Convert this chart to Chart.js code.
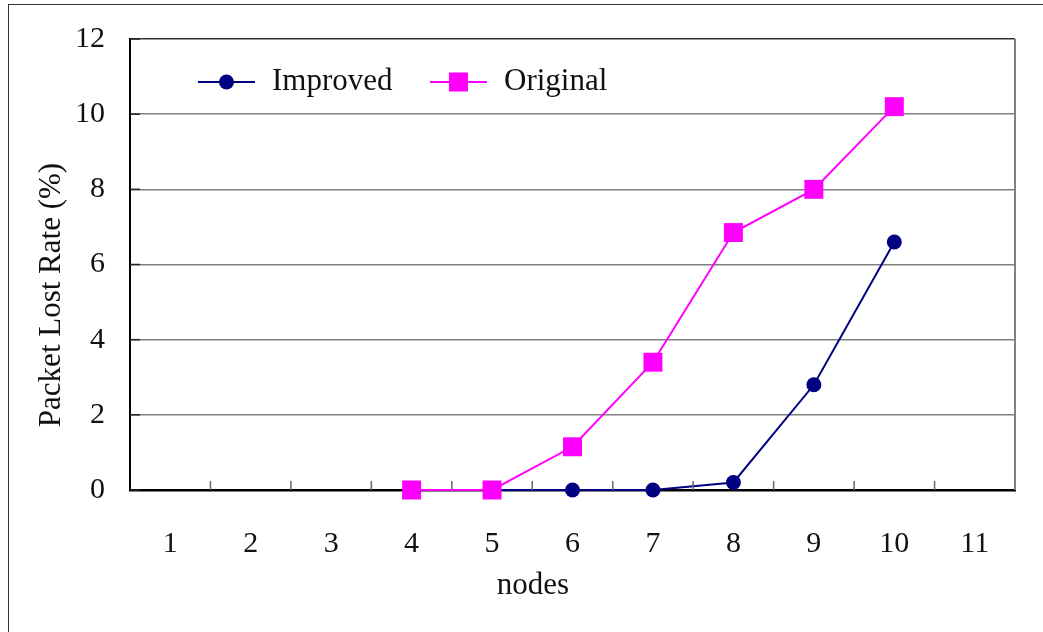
<!DOCTYPE html>
<html>
<head>
<meta charset="utf-8">
<script src="https://cdn.jsdelivr.net/npm/chart.js@4/dist/chart.umd.min.js"></script>
<style>
  html, body { margin: 0; padding: 0; background: #fff; overflow: hidden; }
  #frame { position: absolute; left: 8px; top: 4px; width: 1200px; height: 800px; border: 1.5px solid #333; }
  #wrap { position: absolute; left: 0; top: 0; width: 1043px; height: 632px; }
</style>
</head>
<body>
<div id="frame"></div>
<div id="wrap"><canvas id="lossChart"></canvas></div>
<script>
// data
const nodes = ['1', '2', '3', '4', '5', '6', '7', '8', '9', '10', '11'];
const improved = [null, null, null, 0, 0, 0, 0, 0.2, 2.8, 6.6, null];
const original = [null, null, null, 0, 0, 1.15, 3.4, 6.85, 8.0, 10.2, null];
const yTicks = [0, 2, 4, 6, 8, 10, 12];
const xTitle = 'nodes';
const yTitle = 'Packet Lost Rate (%)';

const serif = '"Liberation Serif", "Times New Roman", serif';

// legend inside the plot, axis titles, inner tick marks, right border
const framePlugin = {
    id: 'framePlugin',
    afterDatasetsDraw(chart) {
        const ctx = chart.ctx;
        const area = chart.chartArea;
        const x = chart.scales.x;
        const y = chart.scales.y;
        ctx.save();
        // right border
        ctx.strokeStyle = '#808080';
        ctx.lineWidth = 2;
        ctx.beginPath();
        ctx.moveTo(area.right, area.top);
        ctx.lineTo(area.right, area.bottom);
        ctx.stroke();
        // x ticks between categories, pointing up
        ctx.strokeStyle = '#666';
        ctx.lineWidth = 1.5;
        for (let i = 0; i < nodes.length - 1; i++) {
            const px = (x.getPixelForValue(i) + x.getPixelForValue(i + 1)) / 2;
            ctx.beginPath();
            ctx.moveTo(px, area.bottom);
            ctx.lineTo(px, area.bottom - 9);
            ctx.stroke();
        }
        // y ticks, pointing in
        ctx.strokeStyle = '#222';
        yTicks.forEach(v => {
            const py = y.getPixelForValue(v);
            ctx.beginPath();
            ctx.moveTo(area.left, py);
            ctx.lineTo(area.left + 10, py);
            ctx.stroke();
        });
        ctx.restore();
    },
    afterDraw(chart) {
        const ctx = chart.ctx;
        const area = chart.chartArea;
        ctx.save();
        ctx.fillStyle = '#111';
        ctx.font = '31px ' + serif;
        ctx.textAlign = 'center';
        ctx.textBaseline = 'middle';
        // axis titles
        ctx.fillText(xTitle, area.left + 403, area.bottom + 96);
        ctx.save();
        ctx.translate(52, area.top + 256);
        ctx.rotate(-Math.PI / 2);
        ctx.fillText(yTitle, 0, 0);
        ctx.restore();

        // legend
        const items = [
            { ds: chart.data.datasets[0], off: 68 },
            { ds: chart.data.datasets[1], off: 300 }
        ];
        const ly = area.top + 43;
        ctx.textAlign = 'left';
        items.forEach(it => {
            const x0 = area.left + it.off;
            ctx.strokeStyle = it.ds.borderColor;
            ctx.lineWidth = 2;
            ctx.beginPath();
            ctx.moveTo(x0, ly);
            ctx.lineTo(x0 + 57, ly);
            ctx.stroke();
            ctx.fillStyle = it.ds.pointBackgroundColor;
            if (it.ds.pointStyle === 'rect') {
                ctx.fillRect(x0 + 28.5 - 9.5, ly - 9.5, 19, 19);
            } else {
                ctx.beginPath();
                ctx.arc(x0 + 28.5, ly, 7.5, 0, Math.PI * 2);
                ctx.fill();
            }
            ctx.fillStyle = '#111';
            ctx.fillText(it.ds.label, x0 + 74, ly);
        });
        ctx.restore();
    }
};

new Chart(document.getElementById('lossChart').getContext('2d'), {
    type: 'line',
    data: {
        labels: nodes,
        datasets: [{
            label: 'Improved',
            data: improved,
            borderColor: '#000080',
            backgroundColor: '#000080',
            pointBackgroundColor: '#000080',
            pointBorderColor: '#000080',
            pointStyle: 'circle',
            pointRadius: 7.5,
            pointBorderWidth: 0,
            borderWidth: 2,
            tension: 0,
            clip: false,
            order: 1
        }, {
            label: 'Original',
            data: original,
            borderColor: '#ff00ff',
            backgroundColor: '#ff00ff',
            pointBackgroundColor: '#ff00ff',
            pointBorderColor: '#ff00ff',
            pointStyle: 'rect',
            pointRadius: 13.4,
            pointBorderWidth: 0,
            borderWidth: 2,
            tension: 0,
            clip: false,
            order: 0
        }]
    },
    options: {
        responsive: true,
        maintainAspectRatio: false,
        animation: false,
        layout: { padding: { left: 0, top: 39, right: 28, bottom: 0 } },
        plugins: {
            legend: { display: false },
            tooltip: { enabled: false }
        },
        scales: {
            x: {
                offset: true,
                grid: { display: false, offset: true },
                border: { display: true, color: '#000', width: 2.5 },
                ticks: { color: '#111', font: { family: serif, size: 30 }, padding: 28, maxRotation: 0 },
                afterFit(scale) {
                    scale.height = 142;
                    scale.paddingLeft = 0;
                    scale.paddingRight = 0;
                }
            },
            y: {
                min: 0,
                max: 12,
                ticks: { stepSize: 2, color: '#111', font: { family: serif, size: 30 }, padding: 25 },
                grid: {
                    drawTicks: false,
                    lineWidth: 1.5,
                    color: ctx => ctx.tick && ctx.tick.value === 12 ? '#333' : '#808080'
                },
                border: { display: true, color: '#000', width: 2 },
                afterFit(scale) {
                    scale.width = 130;
                    scale.paddingTop = 0;
                    scale.paddingBottom = 0;
                }
            }
        }
    },
    plugins: [framePlugin]
});
</script>
</body>
</html>
